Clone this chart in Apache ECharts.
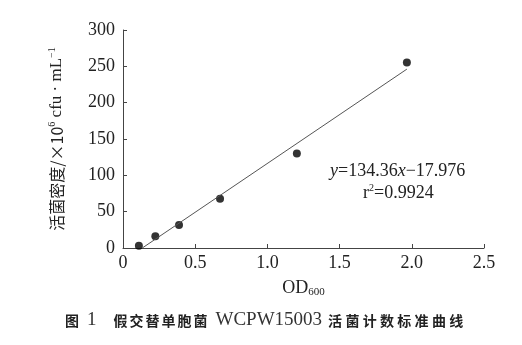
<!DOCTYPE html>
<html><head><meta charset="utf-8">
<script src="https://cdn.jsdelivr.net/npm/echarts@6/dist/echarts.min.js"></script>
<style>html,body{margin:0;padding:0;background:#fff}#c{width:522px;height:345px}</style>
</head><body><div id="c"></div>
<script>
var odValues = [0.11, 0.224, 0.388, 0.672, 1.204, 1.966];
var densityValues = [3.2, 16, 31.6, 67.8, 130, 255.4];
var fitSlope = 134.36, fitIntercept = -17.976;
var fitXRange = [0.134, 1.966];
var xTicks = ['0', '0.5', '1.0', '1.5', '2.0', '2.5'];

var serif = '"Liberation Serif","DejaVu Serif",serif';
var scatterData = odValues.map(function(x, i){ return [x, densityValues[i]]; });
var fitData = fitXRange.map(function(x){ return [x, fitSlope * x + fitIntercept]; });

function cnTokens(s, st){ return s.split('').map(function(ch){ return '{' + st + '|' + ch + '}'; }).join(''); }
var captionText = '{cn|图}{sp|}{la|1}{gap|}' + cnTokens('假交替单胞菌', 'cn') + '{sp|}{la|WCPW15003}{sp|}' + cnTokens('活菌计数标准曲线', 'cn2');

var chart = echarts.init(document.getElementById('c'));
chart.setOption({
  animation: false,
  grid: {left: 123, right: 38, top: 30, bottom: 97},
  xAxis: {
    type: 'value', min: 0, max: 2.5, interval: 0.5,
    axisLine: {lineStyle: {color: '#444', width: 1}},
    axisTick: {inside: true, length: 4, lineStyle: {color: '#444'}},
    splitLine: {show: false},
    axisLabel: {color: '#222', fontFamily: serif, fontSize: 18, margin: 6,
      formatter: function(v){ var i = Math.round(v / 0.5); return xTicks[i]; }},
    name: '{a|OD}{b|600}', nameLocation: 'middle', nameGap: 30,
    nameTextStyle: {rich: {
      a: {fontFamily: serif, fontSize: 18, color: '#222', lineHeight: 20},
      b: {fontFamily: serif, fontSize: 11, color: '#222', verticalAlign: 'bottom', lineHeight: 14}
    }}
  },
  yAxis: {
    type: 'value', min: 0, max: 300, interval: 50,
    axisLine: {show: true, lineStyle: {color: '#444', width: 1}},
    axisTick: {show: true, inside: true, length: 4, lineStyle: {color: '#444'}},
    splitLine: {show: false},
    axisLabel: {color: '#222', fontFamily: serif, fontSize: 18, margin: 8},
    name: '{c|活菌密度/×10}{s|6}{e| cfu · mL}{s|−1}', nameLocation: 'middle', nameGap: 57, nameRotate: 90,
    nameTextStyle: {rich: {
      c: {fontFamily: '"Noto Sans CJK SC",' + serif, fontSize: 16, color: '#222', lineHeight: 19},
      e: {fontFamily: serif, fontSize: 17, color: '#222', lineHeight: 19},
      s: {fontFamily: serif, fontSize: 10, color: '#222', verticalAlign: 'top', lineHeight: 14}
    }}
  },
  series: [
    {type: 'line', data: fitData, symbol: 'none', lineStyle: {color: '#555', width: 1}, silent: true},
    {type: 'scatter', data: scatterData, symbolSize: 8, itemStyle: {color: '#000'}}
  ],
  graphic: [
    {type: 'text', left: 330, top: 162, style: {
      text: '{i|y}{n|=134.36}{i|x}{n|−17.976}',
      rich: {
        i: {fontFamily: serif, fontSize: 18, fontStyle: 'italic', fill: '#222'},
        n: {fontFamily: serif, fontSize: 18, fill: '#222'}
      }}},
    {type: 'text', left: 363, top: 183, style: {
      text: '{n|r}{s|2}{n|=0.9924}',
      rich: {
        n: {fontFamily: serif, fontSize: 18, fill: '#222', lineHeight: 20},
        s: {fontFamily: serif, fontSize: 10, fill: '#222', verticalAlign: 'top', lineHeight: 14}
      }}},
    {type: 'text', left: 65, top: 311, style: {
      text: captionText,
      rich: {
        cn: {fontFamily: '"Noto Sans CJK SC", serif', fontWeight: 'bold', fontSize: 14, width: 16, fill: '#222'},
        cn2: {fontFamily: '"Noto Sans CJK SC", serif', fontWeight: 'bold', fontSize: 14, width: 17.3, fill: '#222'},
        la: {fontFamily: serif, fontSize: 19, fill: '#333'},
        sp: {width: 6},
        gap: {width: 17}
      }}}
  ]
});
</script></body></html>
